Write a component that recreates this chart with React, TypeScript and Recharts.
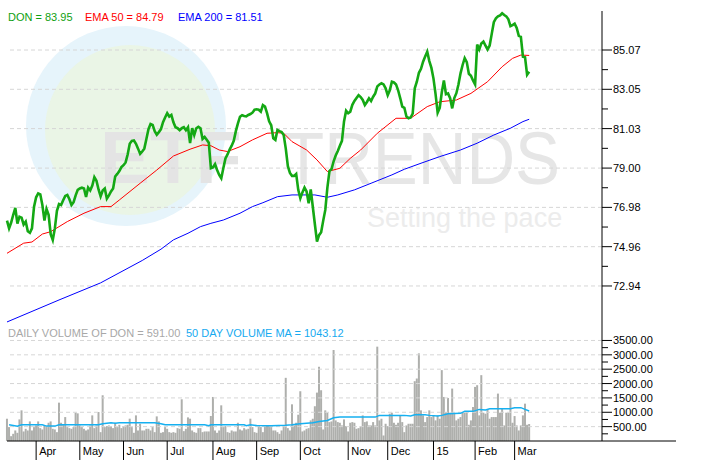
import React from "react"
import { ComposedChart, Line, Bar, XAxis, YAxis, ReferenceLine } from "recharts"

// DON daily close, one value per trading day (mid Mar 2014 .. early Mar 2015)
const closes = [
  76.3, 75.9, 76.2, 76.6, 76.95, 76.15, 76.5, 76.45, 76.1, 76.25,
  75.75, 75.67, 75.9, 77.02, 77.5, 77.7, 77.65, 77.1, 76.3, 76.9,
  76.6, 75.6, 75.3, 75.9, 76.8, 77.15, 77.1, 77.35, 77.57, 77.62,
  77.4, 77.1, 77.25, 77.6, 77.88, 77.95, 77.99, 77.95, 77.52, 78.0,
  77.85, 78.1, 78.53, 78.35, 77.9, 77.55, 77.85, 77.95, 77.43, 77.6,
  77.8, 77.95, 78.57, 78.7, 78.85, 79.05, 79.15, 79.29, 79.7, 80.25,
  80.4, 80.42, 80.25, 80.0, 79.73, 79.85, 80.0, 80.5, 81.0, 81.27,
  81.22, 80.9, 80.72, 80.85, 81.0, 81.36, 81.6, 81.82, 81.65, 81.73,
  81.35, 81.1, 81.05, 80.95, 81.05, 81.1, 80.95, 81.1, 80.28, 81.05,
  80.7, 81.05, 81.12, 81.05, 80.5, 80.6, 80.46, 80.3, 79.0, 79.04,
  79.2, 78.9, 78.65, 78.48, 79.0, 79.5, 79.7, 79.95, 80.15, 80.4,
  80.9, 81.3, 81.64, 81.72, 81.68, 81.66, 81.73, 81.78, 81.85, 82.0,
  82.02, 82.0, 81.9, 82.24, 82.16, 81.82, 81.4, 81.2, 80.53, 80.45,
  80.96, 80.9, 80.85, 80.7, 80.0, 79.1, 78.75, 78.6, 78.6, 78.7,
  77.88, 77.45, 77.75, 78.0, 77.8, 77.19, 77.9, 77.0, 76.1, 75.22,
  75.55, 75.7, 76.3, 76.85, 78.0, 78.85, 78.95, 79.35, 79.65, 79.88,
  80.15, 80.4, 81.4, 81.95, 81.82, 81.9, 82.25, 82.45, 82.6, 82.75,
  82.65, 82.5, 82.24, 82.4, 82.59, 82.45, 82.67, 82.84, 83.2, 83.3,
  83.36, 83.3, 83.1, 82.75, 83.0, 83.44, 83.4, 83.3, 83.0, 82.6,
  82.16, 82.1, 81.65, 81.56, 81.6, 81.8, 83.1, 83.44, 83.9, 84.1,
  84.47, 84.73, 84.98, 84.5, 84.15, 83.6, 82.8, 81.85, 82.1, 82.9,
  83.5, 82.8, 82.84, 82.59, 82.07, 82.6, 82.85, 83.3, 83.87, 84.3,
  84.65, 84.45, 83.85, 83.75, 83.5, 83.3, 85.35, 85.1, 85.41, 85.5,
  85.3, 85.1, 85.3, 85.9, 86.5, 86.7, 86.8, 86.85, 86.96, 86.87,
  86.8, 86.65, 86.3, 86.35, 86.42, 86.2, 85.8, 85.75, 84.73, 84.7,
  83.8, 83.95,
]

// [day index, value]
const ema50: [number, number][] = [
  [0, 74.62], [8, 75.14], [12, 75.2], [17, 75.61], [21, 75.73], [29, 76.25],
  [37, 76.68], [45, 77.02], [50, 77.02], [54, 77.36], [64, 78.22], [72, 78.9],
  [80, 79.62], [88, 79.97], [94, 80.19], [98, 80.15], [102, 79.93], [106, 79.85],
  [112, 80.1], [118, 80.45], [125, 80.79], [130, 80.82], [133, 80.79], [137, 80.36],
  [144, 79.93], [149, 79.42], [154, 78.82], [160, 78.99], [165, 79.5], [170, 79.93],
  [178, 80.79], [187, 81.56], [194, 81.56], [202, 82.16], [208, 82.41], [216, 82.5],
  [223, 82.84], [231, 83.44], [238, 84.21], [243, 84.64], [247, 84.81], [251, 84.79],
]

const ema200: [number, number][] = [
  [0, 71.09], [25, 72.22], [45, 73.1], [65, 74.25], [74, 74.83], [80, 75.31],
  [87, 75.65], [93, 75.99], [98, 76.16], [104, 76.33], [112, 76.68], [118, 77.02],
  [123, 77.22], [130, 77.53], [137, 77.62], [148, 77.62], [154, 77.5], [159, 77.62],
  [167, 77.88], [175, 78.22], [185, 78.65], [191, 78.94], [199, 79.25], [208, 79.59],
  [218, 79.93], [226, 80.28], [234, 80.7], [242, 81.05], [248, 81.39], [251, 81.51],
]

const volumes = [
  775, 484, 168, 250, 367, 285, 752, 1067, 332, 425,
  367, 682, 367, 484, 542, 682, 448, 402, 542, 518,
  635, 682, 425, 402, 308, 1335, 635, 565, 833, 484,
  448, 425, 484, 985, 962, 542, 484, 425, 367, 402,
  542, 892, 448, 542, 1008, 308, 1592, 484, 518, 542,
  518, 448, 635, 484, 565, 448, 518, 542, 565, 777,
  484, 285, 892, 367, 600, 367, 367, 425, 425, 367,
  484, 308, 857, 682, 285, 308, 484, 425, 308, 285,
  308, 285, 448, 425, 1452, 343, 425, 822, 777, 367,
  308, 285, 448, 448, 308, 332, 332, 332, 870, 1533,
  367, 285, 367, 1242, 484, 518, 308, 285, 367, 332,
  332, 635, 402, 367, 448, 402, 425, 777, 484, 308,
  285, 518, 484, 308, 518, 542, 542, 484, 367, 367,
  308, 250, 367, 542, 2199, 448, 367, 1277, 542, 635,
  915, 1732, 332, 367, 425, 448, 717, 775, 1210, 1685,
  2584, 1767, 402, 1067, 985, 658, 682, 3167, 717, 658,
  635, 542, 752, 518, 332, 635, 658, 635, 425, 448,
  518, 892, 658, 682, 542, 542, 658, 542, 3284, 717,
  775, 192, 600, 518, 950, 985, 635, 565, 635, 892,
  658, 308, 542, 600, 600, 600, 2082, 2175, 3050, 1067,
  892, 658, 833, 1067, 833, 892, 717, 892, 775, 2467,
  1533, 1008, 1498, 985, 1825, 950, 717, 775, 833, 985,
  985, 1008, 565, 717, 1183, 1883, 1942, 892, 2292, 985,
  950, 1100, 775, 833, 833, 833, 1650, 985, 1148, 542,
  985, 985, 1475, 635, 868, 542, 367, 542, 892, 1300,
  565, 591,
]

const volumeMa: [number, number][] = [
  [1, 567], [5, 518], [7, 567], [17, 567], [19, 518], [23, 518], [25, 567],
  [44, 567], [46, 600], [50, 635], [52, 620], [54, 635], [71, 635], [74, 600],
  [76, 567], [95, 567], [97, 530], [98, 567], [114, 567], [115, 530], [117, 567],
  [120, 540], [127, 530], [134, 550], [137, 567], [141, 600], [147, 635], [150, 682],
  [154, 717], [157, 810], [160, 833], [177, 833], [179, 892], [191, 892], [194, 868],
  [196, 915], [201, 915], [203, 892], [207, 868], [209, 892], [212, 950], [218, 962],
  [220, 1032], [224, 1032], [227, 1100], [230, 1080], [232, 1125], [242, 1125],
  [244, 1160], [247, 1160], [249, 1100], [251, 1043],
]

const monthTicks = [14, 35, 56, 77, 99, 120, 141, 164, 183, 205, 225, 244]
const monthLabels = ["Apr", "May", "Jun", "Jul", "Aug", "Sep", "Oct", "Nov", "Dec", "15", "Feb", "Mar"]

const priceMajor = [85.07, 83.05, 81.03, 79.0, 76.98, 74.96, 72.94]
const priceMinor = [84.06, 82.04, 80.015, 77.99, 75.97, 73.95]
const volMajor = [500, 1000, 1500, 2000, 2500, 3000, 3500]
const volMinor = [250, 750, 1250, 1750, 2250, 2750, 3250]

const FONT = "'Liberation Sans', Arial, sans-serif"

const priceRows = closes.map((c, i) => {
  const row: any = { i, close: c }
  const a = ema50.find((p) => p[0] === i)
  const b = ema200.find((p) => p[0] === i)
  if (a) row.ema50 = a[1]
  if (b) row.ema200 = b[1]
  return row
})

const volRows = volumes.map((v, i) => {
  const row: any = { i, vol: v }
  const m = volumeMa.find((p) => p[0] === i)
  if (m) row.ma = m[1]
  return row
})

function makeYTick(majors: number[]) {
  return (props: any) => {
    const { x, y, payload } = props
    const isMajor = majors.some((m) => Math.abs(m - payload.value) < 0.001)
    return (
      <g>
        <line x1={x} y1={y} x2={x + (isMajor ? 10 : 6)} y2={y} stroke="#000" />
        {isMajor && (
          <text x={x + 11} y={y + 4} fontSize={11} fontFamily={FONT} fill="#000">
            {payload.value.toFixed(2)}
          </text>
        )}
      </g>
    )
  }
}

const MonthTick = (props: any) => {
  const { x, y, payload } = props
  const label = monthLabels[monthTicks.indexOf(payload.value)]
  return (
    <g>
      <line x1={x} y1={y} x2={x} y2={y + 19} stroke="#000" />
      <text x={x + 3} y={y + 13.5} fontSize={11} fontFamily={FONT} fill="#000">
        {label}
      </text>
    </g>
  )
}

const grid = "#d6d6d6"

export default function App() {
  return (
    <div style={{ position: "absolute", left: 0, top: 0, width: 722, height: 472, background: "#fff", overflow: "hidden" }}>
      <svg width={722} height={472} style={{ position: "absolute", left: 0, top: 0 }}>
        <circle cx={126} cy={126} r={100} fill="#e6f4fb" />
        <circle cx={130} cy={130} r={85} fill="#eaf5e6" />
        <text x={100} y={183} fontSize={75} fontWeight="bold" fontFamily={FONT} fill="#e4e4e4">ETF</text>
        <text x={283} y={184} fontSize={75} fontFamily={FONT} fill="#e6e6e6" textLength={277} lengthAdjust="spacingAndGlyphs">TRENDS</text>
        <text x={367} y={227} fontSize={27} fontFamily={FONT} fill="#ececec">Setting the pace</text>
      </svg>

      <div style={{ position: "absolute", left: 0, top: 0 }}>
        <ComposedChart width={722} height={335} data={priceRows} margin={{ top: 11, right: 0, bottom: 0, left: 7 }}>
          <XAxis dataKey="i" type="number" domain={[0, 286]} hide />
          <YAxis
            orientation="right"
            width={120}
            domain={[70.42, 87.075]}
            allowDataOverflow
            ticks={[...priceMajor, ...priceMinor]}
            interval={0}
            tickSize={0}
            tickMargin={0}
            tickLine={false}
            axisLine={{ stroke: "#000" }}
            tick={makeYTick(priceMajor)}
          />
          {priceMajor.map((v) => (
            <ReferenceLine key={v} y={v} stroke={grid} strokeDasharray="4 3" />
          ))}
          <Line dataKey="ema200" stroke="#0000ff" strokeWidth={1} dot={false} connectNulls isAnimationActive={false} />
          <Line dataKey="ema50" stroke="#ff0000" strokeWidth={1} dot={false} connectNulls isAnimationActive={false} />
          <Line dataKey="close" stroke="#14a814" strokeWidth={2.6} dot={false} isAnimationActive={false} />
        </ComposedChart>
      </div>

      <div style={{ position: "absolute", left: 0, top: 335 }}>
        <ComposedChart width={722} height={137} data={volRows} margin={{ top: 0, right: 0, bottom: 0, left: 7 }}>
          <XAxis
            dataKey="i"
            type="number"
            domain={[0, 286]}
            ticks={monthTicks}
            interval={0}
            height={31}
            tickSize={0}
            tickMargin={0}
            tickLine={false}
            axisLine={{ stroke: "#000" }}
            tick={MonthTick}
          />
          <YAxis
            orientation="right"
            width={120}
            domain={[0, 3690]}
            allowDataOverflow
            ticks={[...volMajor, ...volMinor]}
            interval={0}
            tickSize={0}
            tickMargin={0}
            tickLine={false}
            axisLine={{ stroke: "#000" }}
            tick={makeYTick(volMajor)}
          />
          {volMajor.map((v) => (
            <ReferenceLine key={v} y={v} stroke={grid} strokeDasharray="4 3" />
          ))}
          <Bar dataKey="vol" fill="#aeafac" barSize={2} isAnimationActive={false} />
          <Line dataKey="ma" stroke="#16b0f0" strokeWidth={1.5} dot={false} connectNulls isAnimationActive={false} />
        </ComposedChart>
      </div>

      <svg width={722} height={472} style={{ position: "absolute", left: 0, top: 0, pointerEvents: "none" }}>
        <line x1={602} y1={441} x2={676} y2={441} stroke="#000" />
        <g fontSize={11} fontFamily={FONT}>
          <text x={8} y={20.5} fill="#10a010">DON = 83.95</text>
          <text x={85} y={20.5} fill="#ff0000">EMA 50 = 84.79</text>
          <text x={178} y={20.5} fill="#0000ff">EMA 200 = 81.51</text>
          <text x={8} y={336.5} fill="#a8a8a8">DAILY VOLUME OF DON = 591.00</text>
          <text x={186} y={336.5} fill="#16aaf0">50 DAY VOLUME MA = 1043.12</text>
        </g>
      </svg>
    </div>
  )
}
